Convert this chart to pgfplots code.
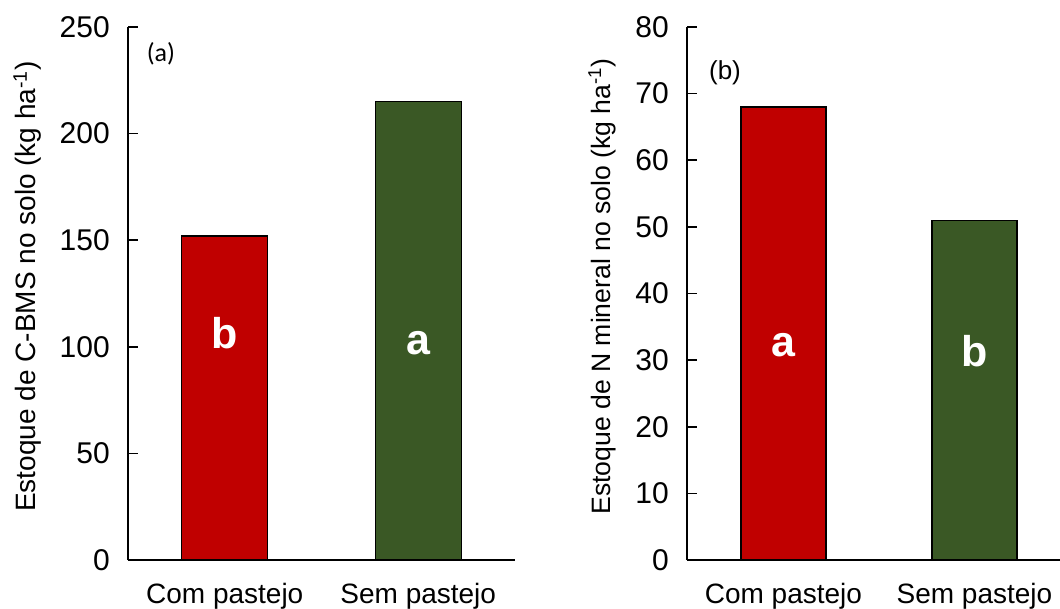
\documentclass[border=0pt]{standalone}
\usepackage{pgfplots}
\pgfplotsset{compat=1.18}
\usepackage{fontspec}
\setmainfont{Liberation Sans}
\newfontfamily\calibri{Carlito}
\definecolor{barred}{HTML}{C00000}
\definecolor{bargreen}{HTML}{3A5825}
\begin{document}
\begin{tikzpicture}
\useasboundingbox (0,0) rectangle (1060pt,608pt);
\pgfplotsset{
  mystyle/.style={
    scale only axis,
    height=533pt,
    ymin=0,
    axis x line=bottom,
    axis y line=left,
    axis line style={line width=1.5pt,-},
    tick align=inside,
    major tick length=10pt,
    ytick style={line width=1.5pt,black},
    xtick style={draw=none},
    xtick={0,1},
    xticklabels={Com pastejo,Sem pastejo},
    /pgf/number format/assume math mode=true,
    yticklabel style={font=\fontsize{30}{36}\selectfont, anchor=east, inner sep=0pt, xshift=-18pt},
    xticklabel style={font=\fontsize{28}{34}\selectfont, anchor=base, inner sep=0pt, yshift=-33pt},
    ybar,
    bar shift=0pt,
    clip=false,
  }
}
% Left panel
\begin{axis}[mystyle,
  at={(128pt,48pt)}, anchor=south west,
  width=387pt,
  xmin=-0.5, xmax=1.5,
  ymax=250, ytick={0,50,100,150,200,250},
  bar width=86pt,
  ylabel={Estoque de C-BMS no solo (kg ha\textsuperscript{-1})},
  ylabel style={font=\fontsize{28}{34}\selectfont, at={(axis description cs:-0.2597,0.513)}, anchor=center, rotate=0},
]
\addplot[fill=barred, draw=black, line width=1.2pt] coordinates {(0,152)};
\addplot[fill=bargreen, draw=black, line width=1.2pt] coordinates {(1,215)};
\node[anchor=base, text=white, font=\bfseries\fontsize{43}{50}\selectfont, inner sep=0pt] at (axis cs:0,99.4) {b};
\node[anchor=base, text=white, font=\bfseries\fontsize{43}{50}\selectfont, inner sep=0pt] at (axis cs:1,96.2) {a};
\node[font=\calibri\fontsize{26}{30}\selectfont, inner sep=0pt] at (axis cs:-0.33,237.5) {(a)};
\end{axis}
% Right panel
\begin{axis}[mystyle,
  at={(687pt,48pt)}, anchor=south west,
  width=373pt,
  xmin=-0.505, xmax=1.448,
  ymax=80, ytick={0,10,20,30,40,50,60,70,80},
  bar width=85pt,
  ylabel={Estoque de N mineral no solo (kg ha\textsuperscript{-1})},
  ylabel style={font=\fontsize{26.6}{32}\selectfont, at={(axis description cs:-0.228,0.513)}, anchor=center, rotate=0},
]
\addplot[fill=barred, draw=black, line width=1.2pt] coordinates {(0,68)};
\addplot[fill=bargreen, draw=black, line width=1.2pt] coordinates {(1,51)};
\node[anchor=base, text=white, font=\bfseries\fontsize{43}{50}\selectfont, inner sep=0pt] at (axis cs:0,30.6) {a};
\node[anchor=base, text=white, font=\bfseries\fontsize{43}{50}\selectfont, inner sep=0pt] at (axis cs:1,29.1) {b};
\node[font=\fontsize{26}{30}\selectfont, inner sep=0pt] at (axis cs:-0.306,73.1) {(b)};
\end{axis}
\end{tikzpicture}
\end{document}
